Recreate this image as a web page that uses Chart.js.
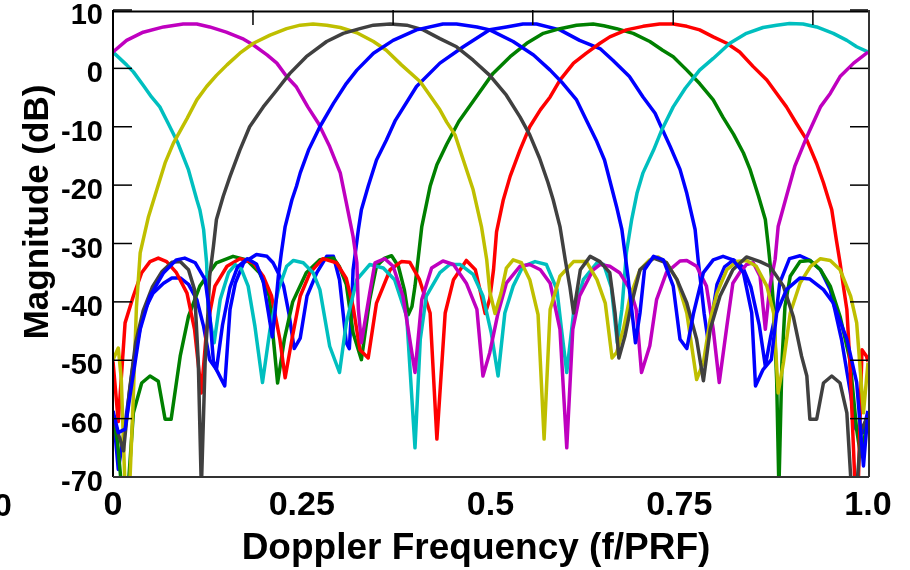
<!DOCTYPE html>
<html>
<head>
<meta charset="utf-8">
<script src="https://cdn.jsdelivr.net/npm/chart.js@4.4.1/dist/chart.umd.min.js"></script>
<style>
  html, body { margin: 0; padding: 0; background: #ffffff; }
  canvas { display: block; }
</style>
</head>
<body>
<canvas id="chart" width="910" height="570"></canvas>
<script>
// Axis ticks
const X_TICKS = [0, 0.25, 0.5, 0.75, 1.0];
const X_TICK_LABELS = ['0', '0.25', '0.5', '0.75', '1.0'];
const Y_TICKS = [10, 0, -10, -20, -30, -40, -50, -60, -70];
const TOP_TICKS = [0.1854, 0.371, 0.556, 0.742, 0.927];

// Doppler filter bank responses: [f/PRF, magnitude dB]
const FILTER_1 = [[0,-58.7],[0.007,-68.7],[0.015,-62],[0.027,-50.4],[0.040,-41.9],[0.053,-38.5],[0.067,-36.8],[0.078,-35.9],[0.089,-35.9],[0.100,-37.0],[0.111,-39.6],[0.120,-44.2],[0.128,-49.9],[0.137,-51.6],[0.148,-54.4],[0.155,-41.3],[0.162,-36.8],[0.173,-33.3],[0.190,-31.9],[0.204,-32.2],[0.212,-33.3],[0.221,-35.6],[0.226,-37.3],[0.233,-42],[0.240,-48.0],[0.248,-46.2],[0.257,-39.0],[0.270,-35.0],[0.283,-32.2],[0.292,-32.2],[0.300,-36.2],[0.309,-47.0],[0.313,-48],[0.316,-41.3],[0.318,-34.5],[0.321,-31.6],[0.325,-27.6],[0.329,-24.2],[0.338,-20.2],[0.349,-15.7],[0.362,-12.3],[0.374,-8.9],[0.402,-3.1],[0.433,0.9],[0.464,3.7],[0.499,6.6],[0.521,7.1],[0.543,7.6],[0.561,7.6],[0.592,6.6],[0.618,4.8],[0.645,3.4],[0.662,1.4],[0.684,-1.4],[0.702,-4.9],[0.718,-7.7],[0.726,-10.0],[0.738,-13.4],[0.751,-17.3],[0.760,-21.4],[0.771,-27.6],[0.775,-32.8],[0.780,-38.5],[0.783,-42],[0.788,-46.5],[0.794,-42],[0.800,-37],[0.810,-34.0],[0.822,-32.8],[0.834,-34.0],[0.845,-37.5],[0.856,-44],[0.864,-51],[0.871,-46],[0.879,-41.3],[0.883,-36.8],[0.896,-32.6],[0.910,-32.1],[0.923,-32.9],[0.937,-34.5],[0.950,-37.9],[0.956,-41.3],[0.965,-46.5],[0.976,-55],[0.984,-61.8],[0.993,-62.4],[1,-58.7]];

const FILTER_2 = [[0,-60],[0.006,-64],[0.0115,-72],[0.020,-72],[0.027,-59.0],[0.038,-53.9],[0.049,-52.7],[0.060,-53.6],[0.069,-60.1],[0.077,-60.1],[0.089,-49.3],[0.100,-42.5],[0.115,-37.3],[0.137,-33.3],[0.159,-32.2],[0.177,-32.8],[0.194,-35.0],[0.207,-39.0],[0.218,-53.9],[0.227,-46.4],[0.238,-40.0],[0.256,-35.0],[0.274,-32.8],[0.292,-32.5],[0.300,-34.0],[0.309,-37.0],[0.318,-45.3],[0.329,-49.9],[0.340,-39.6],[0.349,-33.9],[0.360,-32.5],[0.369,-32.1],[0.378,-33.9],[0.386,-38],[0.391,-42.2],[0.396,-40.8],[0.400,-37.3],[0.404,-32.8],[0.409,-27.1],[0.420,-20.2],[0.429,-16.5],[0.442,-13.0],[0.458,-9.1],[0.481,-4.9],[0.503,-0.9],[0.526,2.0],[0.548,4.3],[0.570,6.0],[0.592,6.8],[0.614,7.4],[0.636,7.6],[0.650,7.3],[0.667,6.8],[0.689,6.0],[0.711,4.6],[0.728,3.1],[0.742,2.0],[0.760,-0.3],[0.777,-2.6],[0.795,-5.4],[0.808,-8.4],[0.822,-11.3],[0.835,-14.5],[0.844,-17.4],[0.855,-21.9],[0.864,-25.9],[0.868,-30.5],[0.872,-35.6],[0.875,-41],[0.879,-53.3],[0.882,-72],[0.886,-50.4],[0.890,-40.8],[0.897,-35.6],[0.910,-33.1],[0.923,-32.9],[0.937,-34.5],[0.950,-37.3],[0.963,-42.5],[0.976,-49.9],[0.985,-61.9],[0.989,-65.3],[0.995,-63.5],[1,-60]];

const FILTER_3 = [[0,-50.2],[0.007,-60.5],[0.016,-43.6],[0.027,-39.0],[0.038,-35.0],[0.049,-33.1],[0.060,-32.5],[0.071,-33.1],[0.084,-35.0],[0.098,-38.5],[0.108,-44.7],[0.117,-55.6],[0.124,-44.7],[0.135,-37.3],[0.151,-33.9],[0.168,-32.6],[0.186,-33.3],[0.199,-35.6],[0.210,-39.0],[0.221,-46.4],[0.228,-53.0],[0.237,-46.4],[0.248,-39.0],[0.261,-35.0],[0.278,-32.6],[0.296,-33.3],[0.309,-36.0],[0.318,-40.8],[0.327,-48.2],[0.338,-49.6],[0.349,-40.2],[0.367,-34.5],[0.382,-33.1],[0.393,-33.2],[0.406,-36.2],[0.420,-41.9],[0.429,-63.5],[0.440,-41.9],[0.451,-36.2],[0.468,-32.9],[0.480,-34.5],[0.487,-38.5],[0.493,-42.0],[0.499,-39.5],[0.504,-34.5],[0.508,-28.0],[0.517,-22.5],[0.526,-18.5],[0.539,-14.0],[0.552,-10.0],[0.566,-7.1],[0.579,-4.9],[0.592,-2.0],[0.610,0.9],[0.627,2.6],[0.645,4.3],[0.658,5.4],[0.680,6.6],[0.702,7.2],[0.724,7.6],[0.742,7.6],[0.760,7.2],[0.777,6.6],[0.795,5.4],[0.813,4.3],[0.830,2.8],[0.848,0.3],[0.866,-2.0],[0.879,-4.3],[0.892,-6.6],[0.905,-9.4],[0.919,-12.3],[0.932,-16.3],[0.941,-19.6],[0.952,-24.2],[0.958,-29.3],[0.963,-33.3],[0.967,-37.0],[0.972,-41.3],[0.976,-50.4],[0.983,-72],[0.987,-72],[0.992,-48.2],[0.998,-49.3],[1,-50.2]];

const FILTER_4 = [[0,2.8],[0.018,0.6],[0.027,-0.6],[0.040,-2.9],[0.051,-4.9],[0.062,-6.6],[0.073,-9.4],[0.086,-12.8],[0.100,-17.4],[0.111,-22.5],[0.115,-24.2],[0.120,-27.6],[0.124,-33.3],[0.126,-41.3],[0.134,-47.0],[0.142,-39.6],[0.153,-35.0],[0.162,-33.6],[0.170,-34.4],[0.179,-37.3],[0.188,-44.2],[0.198,-53.8],[0.208,-44.7],[0.219,-37.9],[0.230,-33.9],[0.239,-32.9],[0.252,-33.3],[0.265,-35.0],[0.274,-37.9],[0.287,-47.6],[0.300,-52.1],[0.309,-43.6],[0.323,-36.2],[0.340,-33.6],[0.358,-34.2],[0.373,-36.2],[0.389,-42.5],[0.400,-65.0],[0.407,-46.4],[0.415,-39.0],[0.433,-35.0],[0.446,-33.6],[0.460,-33.6],[0.477,-35.3],[0.490,-39.0],[0.501,-45.3],[0.510,-52.7],[0.519,-41.9],[0.530,-37.3],[0.543,-33.9],[0.559,-33.1],[0.574,-33.6],[0.588,-37.9],[0.594,-44.7],[0.601,-52.1],[0.610,-41.9],[0.623,-36.2],[0.641,-33.3],[0.650,-33.6],[0.660,-37.5],[0.668,-47.0],[0.674,-41.3],[0.680,-31.6],[0.687,-25.9],[0.694,-21.4],[0.702,-17.9],[0.716,-14.0],[0.727,-10.5],[0.742,-6.6],[0.758,-3.4],[0.777,-0.3],[0.795,1.7],[0.817,4.3],[0.839,6.0],[0.861,7.0],[0.879,7.4],[0.896,7.7],[0.914,7.6],[0.932,7.1],[0.954,6.0],[0.972,4.8],[0.985,3.7],[1,2.8]];

const FILTER_5 = [[0,2.8],[0.018,4.8],[0.040,6.2],[0.067,7.1],[0.093,7.6],[0.111,7.6],[0.128,7.1],[0.150,6.2],[0.173,5.0],[0.186,4.0],[0.204,2.3],[0.217,0.9],[0.230,-1.4],[0.243,-3.2],[0.258,-6.6],[0.272,-9.4],[0.287,-13.4],[0.301,-17.9],[0.309,-23.0],[0.318,-28.8],[0.323,-33.3],[0.325,-41.3],[0.329,-47.0],[0.340,-38.5],[0.347,-33.3],[0.360,-32.6],[0.371,-33.9],[0.384,-39.0],[0.400,-52.1],[0.409,-39.6],[0.422,-34.2],[0.437,-33.0],[0.451,-33.6],[0.468,-36.8],[0.482,-41.3],[0.490,-52.7],[0.499,-48.7],[0.510,-41.9],[0.521,-36.8],[0.539,-33.9],[0.552,-33.6],[0.566,-34.5],[0.579,-36.8],[0.592,-44.7],[0.601,-65.0],[0.609,-44.7],[0.618,-39.0],[0.636,-34.5],[0.645,-33.6],[0.658,-33.9],[0.671,-35.0],[0.685,-37.9],[0.693,-41.3],[0.700,-52.1],[0.711,-47.5],[0.720,-39.6],[0.733,-35.0],[0.751,-33.0],[0.760,-32.9],[0.773,-33.9],[0.786,-37.3],[0.795,-44.7],[0.803,-53.8],[0.813,-44.2],[0.821,-36.8],[0.830,-35.0],[0.839,-33.6],[0.848,-33.3],[0.857,-35.6],[0.864,-44.7],[0.870,-37.3],[0.877,-32.7],[0.881,-27.1],[0.892,-21.9],[0.903,-16.8],[0.919,-11.7],[0.937,-6.6],[0.950,-4.3],[0.963,-1.4],[0.981,0.9],[1,2.8]];

const FILTER_6 = [[0,-49.9],[0.007,-47.9],[0.011,-53.3],[0.016,-72],[0.022,-72],[0.027,-56.0],[0.031,-41.0],[0.036,-31.6],[0.047,-25.4],[0.058,-20.8],[0.069,-16.2],[0.080,-12.8],[0.098,-8.6],[0.111,-5.4],[0.124,-3.1],[0.137,-1.2],[0.151,0.6],[0.168,2.6],[0.186,4.3],[0.208,5.7],[0.230,6.8],[0.248,7.4],[0.265,7.6],[0.283,7.4],[0.301,7.0],[0.323,6.1],[0.345,4.6],[0.362,3.1],[0.382,0.6],[0.407,-2.3],[0.418,-4.3],[0.433,-7.1],[0.442,-9.2],[0.453,-11.4],[0.464,-15.7],[0.477,-20.8],[0.488,-27.1],[0.495,-32.8],[0.499,-38.2],[0.506,-42.0],[0.514,-38.5],[0.521,-34.2],[0.530,-32.8],[0.541,-33.3],[0.552,-36.2],[0.563,-42.2],[0.571,-63.5],[0.579,-41.3],[0.592,-35.6],[0.610,-33.1],[0.627,-33.1],[0.641,-36.2],[0.652,-40.2],[0.661,-49.6],[0.667,-48.7],[0.676,-44.7],[0.685,-39.0],[0.698,-34.5],[0.711,-32.8],[0.722,-32.3],[0.733,-33.3],[0.747,-36.2],[0.760,-41.9],[0.773,-53.3],[0.782,-50.4],[0.791,-43.0],[0.800,-38.5],[0.813,-34.5],[0.826,-33.1],[0.839,-32.9],[0.852,-33.9],[0.866,-37.3],[0.875,-41.9],[0.881,-55.6],[0.888,-50.4],[0.897,-41.9],[0.910,-36.8],[0.924,-33.9],[0.937,-32.6],[0.950,-32.9],[0.963,-34.5],[0.977,-39.0],[0.985,-43.6],[0.994,-59.0],[1,-50.4]];

const FILTER_7 = [[0,-59.6],[0.008,-63],[0.014,-65.5],[0.022,-55],[0.030,-47],[0.040,-41.5],[0.052,-37.5],[0.065,-34.8],[0.078,-33.2],[0.089,-33.1],[0.100,-34.5],[0.108,-37.9],[0.113,-50.4],[0.117,-72],[0.122,-50.4],[0.126,-41.3],[0.128,-35.6],[0.133,-30.5],[0.137,-25.9],[0.146,-21.9],[0.155,-18.5],[0.168,-14.0],[0.181,-10.0],[0.199,-6.6],[0.217,-3.7],[0.234,-0.9],[0.256,2.0],[0.283,4.6],[0.305,6.0],[0.327,6.8],[0.345,7.4],[0.367,7.6],[0.389,7.4],[0.411,6.6],[0.433,5.1],[0.455,3.7],[0.477,1.4],[0.499,-1.2],[0.521,-4.6],[0.539,-8.3],[0.552,-11.4],[0.565,-15.4],[0.576,-19.5],[0.583,-22.5],[0.592,-27.1],[0.599,-32.8],[0.605,-37.3],[0.610,-41.9],[0.619,-34.5],[0.632,-32.2],[0.645,-33.1],[0.658,-35.0],[0.665,-41.9],[0.670,-49.6],[0.678,-45.9],[0.687,-40.2],[0.698,-34.5],[0.716,-32.5],[0.733,-33.3],[0.747,-36.2],[0.760,-40.2],[0.773,-46.4],[0.782,-53.5],[0.791,-44.7],[0.804,-39.0],[0.821,-34.5],[0.839,-32.3],[0.857,-33.1],[0.870,-33.9],[0.888,-37.3],[0.901,-42.5],[0.912,-49.3],[0.919,-52.7],[0.923,-60.1],[0.932,-60.1],[0.941,-53.9],[0.952,-52.7],[0.963,-53.9],[0.972,-59.0],[0.978,-72],[0.985,-72],[0.991,-61.9],[1,-59.6]];

const FILTER_8 = [[0,-58.7],[0.007,-62.4],[0.016,-61.8],[0.0225,-56.1],[0.036,-44.7],[0.049,-39.0],[0.067,-35.0],[0.084,-32.8],[0.095,-32.5],[0.109,-33.3],[0.122,-36.2],[0.128,-41.9],[0.133,-50.2],[0.137,-51.6],[0.145,-44],[0.155,-37.5],[0.165,-34.0],[0.178,-32.6],[0.190,-33.5],[0.199,-36.5],[0.206,-42],[0.211,-46],[0.215,-41.3],[0.219,-35.6],[0.223,-31.6],[0.228,-27.1],[0.237,-22.5],[0.243,-20.2],[0.248,-17.9],[0.259,-14.0],[0.274,-10.0],[0.292,-6.0],[0.309,-2.6],[0.323,-0.3],[0.345,2.6],[0.371,4.8],[0.402,6.6],[0.437,7.6],[0.455,7.6],[0.482,7.1],[0.499,6.6],[0.530,4.6],[0.557,2.3],[0.579,-0.3],[0.596,-2.6],[0.614,-5.4],[0.627,-8.9],[0.640,-12.3],[0.651,-15.7],[0.660,-20.2],[0.667,-23.7],[0.674,-27.6],[0.678,-31.6],[0.682,-35.6],[0.687,-41.3],[0.692,-47.0],[0.698,-41.9],[0.704,-34.5],[0.716,-32.2],[0.729,-32.8],[0.742,-37.3],[0.751,-46.4],[0.760,-48.0],[0.769,-41.9],[0.782,-35.0],[0.795,-32.8],[0.808,-32.2],[0.821,-32.8],[0.835,-35.0],[0.846,-41.9],[0.851,-54.4],[0.861,-51.6],[0.872,-49.9],[0.879,-41.9],[0.892,-37.9],[0.910,-35.9],[0.923,-36.1],[0.941,-37.9],[0.954,-40.2],[0.972,-46.4],[0.985,-53.8],[0.994,-68.1],[0.998,-61.9],[1,-58.7]];

const FILTERS = [FILTER_1, FILTER_2, FILTER_3, FILTER_4, FILTER_5, FILTER_6, FILTER_7, FILTER_8];
const COLORS = ['#0000FF', '#008000', '#FF0000', '#00BFBF', '#BF00BF', '#BFBF00', '#404040', '#0000FF'];

const FONT = "'Liberation Sans', Arial, Helvetica, sans-serif";

// Later filters are drawn on top of earlier ones
const datasets = FILTERS.map((pts, i) => ({
  label: 'Filter ' + (i + 1),
  data: pts.map(p => ({ x: p[0], y: p[1] })),
  borderColor: COLORS[i],
  borderWidth: 3.5,
  borderJoinStyle: 'round',
  pointRadius: 0,
  tension: 0,
  fill: false,
  order: FILTERS.length - i
}));

// Box, inward tick marks and axis titles
const axesBox = {
  id: 'axesBox',
  afterDatasetsDraw(chart) {
    const { ctx, chartArea: a, scales: { x, y } } = chart;
    ctx.save();
    ctx.lineCap = 'butt';
    ctx.strokeStyle = '#000';
    ctx.lineWidth = 1.5;
    const seg = (x1, y1, x2, y2) => { ctx.beginPath(); ctx.moveTo(x1, y1); ctx.lineTo(x2, y2); ctx.stroke(); };
    Y_TICKS.forEach(v => {
      const p = y.getPixelForValue(v);
      seg(a.left, p, a.left + 19, p);
      seg(a.right - 18, p, a.right, p);
    });
    TOP_TICKS.forEach(v => {
      const p = x.getPixelForValue(v);
      seg(p, a.top, p, a.top + 15);
    });
    ctx.lineWidth = 2;
    seg(a.left, a.top + 1.5, a.right + 1, a.top + 1.5);
    seg(a.left, a.top, a.left, a.bottom);
    ctx.strokeStyle = '#333';
    seg(a.right + 1, a.top, a.right + 1, a.bottom);
    seg(a.left, a.bottom, a.right + 1, a.bottom);
    ctx.restore();
  },
  afterDraw(chart) {
    const { ctx } = chart;
    ctx.save();
    ctx.fillStyle = '#000';
    ctx.textAlign = 'center';
    ctx.textBaseline = 'alphabetic';
    ctx.font = 'bold 37px ' + FONT;
    ctx.fillText('Doppler Frequency (f/PRF)', 476, 559);
    ctx.font = 'bold 32px ' + FONT;
    ctx.fillText('0', 3, 516);
    ctx.translate(48, 212);
    ctx.rotate(-Math.PI / 2);
    ctx.font = 'bold 35px ' + FONT;
    ctx.fillText('Magnitude (dB)', 0, 0);
    ctx.restore();
  }
};

new Chart(document.getElementById('chart'), {
  type: 'line',
  data: { datasets },
  options: {
    responsive: false,
    animation: false,
    devicePixelRatio: 1,
    layout: { padding: { left: 0, right: 42, top: 10, bottom: 0 } },
    plugins: { legend: { display: false }, tooltip: { enabled: false } },
    scales: {
      x: {
        type: 'linear',
        min: 0,
        max: 1,
        afterBuildTicks: s => { s.ticks = X_TICKS.map(v => ({ value: v })); },
        afterFit: s => { s.height = 93; s.paddingLeft = 0; s.paddingRight = 0; },
        grid: { display: false, drawTicks: false },
        border: { display: false },
        ticks: {
          autoSkip: false,
          maxRotation: 0,
          padding: 8,
          color: '#000',
          font: { family: FONT, size: 34, weight: 'bold' },
          callback: v => X_TICK_LABELS[X_TICKS.indexOf(v)]
        }
      },
      y: {
        type: 'linear',
        min: -70,
        max: 10,
        afterBuildTicks: s => { s.ticks = Y_TICKS.map(v => ({ value: v })); },
        afterFit: s => { s.width = 113; s.paddingTop = 0; s.paddingBottom = 0; },
        grid: { display: false, drawTicks: false },
        border: { display: false },
        ticks: {
          padding: 10,
          labelOffset: 6,
          color: '#000',
          font: { family: FONT, size: 29, weight: 'bold' }
        }
      }
    }
  },
  plugins: [axesBox]
});
</script>
</body>
</html>
